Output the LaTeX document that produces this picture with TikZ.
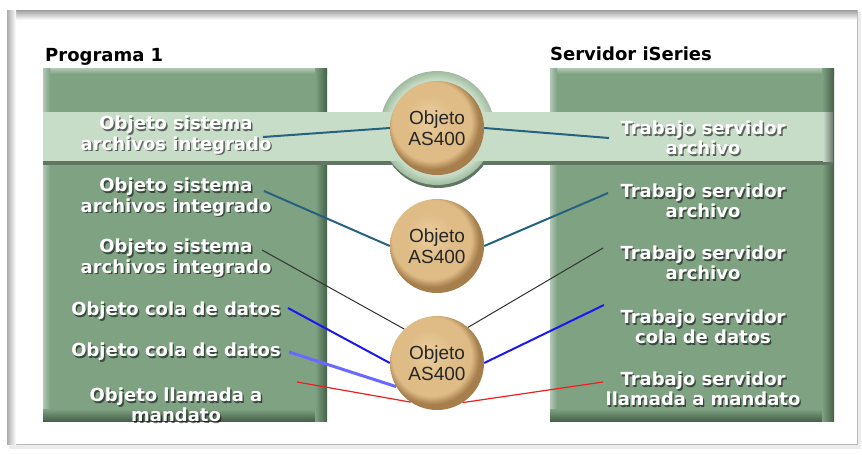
\documentclass[tikz,border=0pt]{standalone}
\usepackage{fontspec}
\newfontfamily\lblfont{DejaVu Sans}
\newfontfamily\objfont{Liberation Sans}
\usetikzlibrary{arrows.meta,positioning,calc}

\definecolor{boxgreen}{RGB}{127,162,131}
\definecolor{boxdark}{RGB}{70,96,74}
\definecolor{bandgreen}{RGB}{200,221,199}
\definecolor{bandrim}{RGB}{160,186,160}
\definecolor{bandshadow}{RGB}{96,118,98}
\definecolor{tanmain}{RGB}{223,188,134}
\definecolor{tanlite}{RGB}{234,205,158}
\definecolor{tanrim}{RGB}{165,126,76}
\definecolor{linkteal}{RGB}{38,98,128}
\definecolor{linkblue}{RGB}{25,25,240}
\definecolor{linklight}{RGB}{105,105,255}
\definecolor{linkred}{RGB}{240,30,30}
\definecolor{linkgray}{RGB}{50,50,50}

\pgfdeclareradialshading{tanball}{\pgfpoint{-5bp}{6bp}}{color(0bp)=(tanlite); color(13bp)=(tanmain); color(21bp)=(tanmain); color(25bp)=(tanrim); color(50bp)=(tanrim)}
\pgfdeclareradialshading{haloball}{\pgfpoint{0bp}{0bp}}{color(0bp)=(bandgreen); color(21bp)=(bandgreen); color(25bp)=(bandrim); color(50bp)=(bandrim)}

\begin{document}
\begin{tikzpicture}[
  x=1pt, y=-1pt,
  every node/.style={inner sep=0pt},
  head/.style={font=\lblfont\bfseries\fontsize{18}{20}\selectfont, anchor=base west},
  lbl/.style={font=\lblfont\bfseries\fontsize{18}{20.5}\selectfont, text=white, align=center},
  lblsh/.style={lbl, text=black, opacity=0.55, xshift=1.4pt, yshift=-1.7pt},
  obj/.style={circle, minimum size=94pt, shading=tanball,
              font=\objfont\fontsize{19}{21}\selectfont, text=black!85, align=center},
  link/.style={line width=2pt, linkteal},
]
  \useasboundingbox (0,0) rectangle (862,455);
  % Panel
  \fill[white] (0,0) rectangle (862,455);
  \fill[gray!15] (9,12) rectangle (861,449);
  \fill[white] (7,10) rectangle (857,444);
  \draw[gray!55] (7,10) rectangle (857,444);
  \shade[top color=gray!75, bottom color=white] (7,10) rectangle (857,20);
  \shade[left color=gray!65, right color=white] (7,10) rectangle (16,444);
  % Program and server boxes
  \foreach \x in {43,550} {
    \fill[boxgreen] (\x,68) rectangle ++(284,353);
    \shade[top color=boxgreen!60!white, bottom color=boxgreen] (\x,68) rectangle ++(284,6);
    \shade[left color=boxgreen!60!white, right color=boxgreen] (\x,68) rectangle ++(7,353);
    \shade[top color=boxgreen, bottom color=boxdark] (\x,409) rectangle ++(272,12);
    \shade[left color=boxgreen, right color=boxdark] (\x+272,68) rectangle ++(12,353);
  }
  % Band with halo
  \fill[bandshadow] (43,114) rectangle (833,165);
  \fill[bandshadow] (438,131) circle[radius=57];
  \shade[shading=haloball] (437,128) circle[radius=57];
  \fill[bandgreen] (43,112) rectangle (833,161);
  \shade[left color=bandgreen, right color=bandgreen!55!black] (823,112) rectangle (833,161);
  % Headers
  \node[head] (hprog) at (45,61) {Programa 1};
  \node[head] (hserv) at (550,60) {Servidor iSeries};
  % AS400 objects
  \node[obj] (obj1) at (437,128) {Objeto\\AS400};
  \node[obj] (obj2) at (437,246) {Objeto\\AS400};
  \node[obj] (obj3) at (437,363) {Objeto\\AS400};
  % Link ends
  \coordinate (p1) at (263,137);
  \coordinate (p2) at (264,191);
  \coordinate (p3) at (262,250);
  \coordinate (p4) at (288,308);
  \coordinate (p5) at (289,352);
  \coordinate (p6) at (297,382);
  \coordinate (s1) at (609,138);
  \coordinate (s2) at (608,193);
  \coordinate (s3) at (603,248);
  \coordinate (s4) at (604,305);
  \coordinate (s5) at (603,382);
  % Links
  \draw[link] (p1) -- (obj1.180);
  \draw[link] (obj1.0) -- (s1);
  \draw[link] (p2) -- (obj2.180);
  \draw[link] (obj2.0) -- (s2);
  \draw[link, linkgray, line width=1pt] (p3) -- (obj3.134);
  \draw[link, linkgray, line width=1pt] (obj3.49) -- (s3);
  \draw[link, linkblue] (p4) -- (obj3.180);
  \draw[link, linkblue] (obj3.0) -- (s4);
  \draw[link, linklight, line width=3pt] (p5) -- (obj3.210);
  \draw[link, linkred, line width=1.2pt] (p6) -- (obj3.236);
  \draw[link, linkred, line width=1.2pt] (obj3.303) -- (s5);
  % Program labels
  \foreach \n/\y/\txt in {1/135/{Objeto sistema\\archivos integrado},
                          2/197/{Objeto sistema\\archivos integrado},
                          3/258/{Objeto sistema\\archivos integrado},
                          4/311/{Objeto cola de datos},
                          5/352/{Objeto cola de datos},
                          6/405/{Objeto llamada a\\mandato}} {
    \node[lblsh] (prog\n-sh) at (176,\y) {\txt};
    \node[lbl] (prog\n) at (176,\y) {\txt};
  }
  % Server labels
  \foreach \n/\y/\txt in {1/138/{Trabajo servidor\\archivo},
                          2/201/{Trabajo servidor\\archivo},
                          3/263/{Trabajo servidor\\archivo},
                          4/327/{Trabajo servidor\\cola de datos},
                          5/389/{Trabajo servidor\\llamada a mandato}} {
    \node[lblsh] (serv\n-sh) at (703,\y) {\txt};
    \node[lbl] (serv\n) at (703,\y) {\txt};
  }
\end{tikzpicture}
\end{document}
